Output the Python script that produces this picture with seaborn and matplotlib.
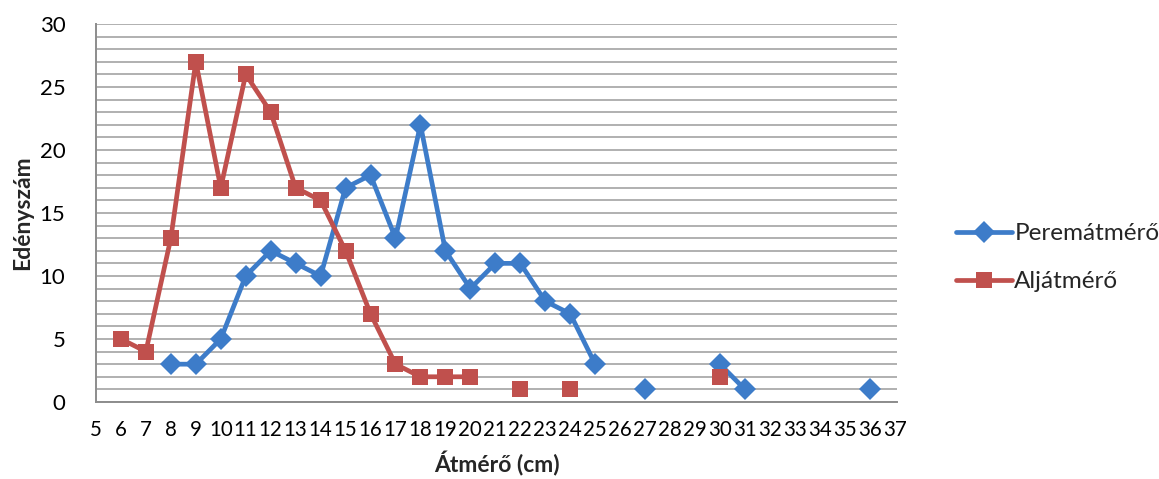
"""Edényszám az átmérő függvényében (perem- és aljátmérő)"""
import numpy as np
import pandas as pd
import matplotlib
matplotlib.use('Agg')
import matplotlib.pyplot as plt
import seaborn as sns

# Adatok (Átmérő cm -> edényszám)
perem_x = [8, 9, 10, 11, 12, 13, 14, 15, 16, 17, 18, 19, 20, 21, 22, 23, 24, 25, 27, 30, 31, 36]
perem_y = [3, 3, 5, 10, 12, 11, 10, 17, 18, 13, 22, 12, 9, 11, 11, 8, 7, 3, 1, 3, 1, 1]

alj_x = [6, 7, 8, 9, 10, 11, 12, 13, 14, 15, 16, 17, 18, 19, 20, 22, 24, 30]
alj_y = [5, 4, 13, 27, 17, 26, 23, 17, 16, 12, 7, 3, 2, 2, 2, 1, 1, 2]

x_ticks = list(range(5, 38))
y_ticks = [0, 5, 10, 15, 20, 25, 30]

blue = '#3d7cc9'
red = '#c0504d'


def build(name, xs, ys):
    # szegmensek: csak a szomszédos átmérők vannak összekötve
    seg = np.concatenate([[0], np.cumsum(np.diff(xs) != 1)])
    return pd.DataFrame({'x': xs, 'y': ys, 'sorozat': name,
                         'szegmens': [f'{name}_{s}' for s in seg]})


df = pd.concat([build('Peremátmérő', perem_x, perem_y),
                build('Aljátmérő', alj_x, alj_y)], ignore_index=True)

sns.set_style('white')
plt.rcParams['font.family'] = ['Lato', 'DejaVu Sans']

fig = plt.figure(figsize=(11.59, 4.79), dpi=100)
ax = fig.add_axes([0.0828, 0.1608, 0.6913, 0.7892])

sns.lineplot(data=df, x='x', y='y', hue='sorozat', style='sorozat',
             units='szegmens', estimator=None, sort=True,
             palette={'Peremátmérő': blue, 'Aljátmérő': red},
             markers={'Peremátmérő': 'D', 'Aljátmérő': 's'},
             dashes=False, linewidth=3.4, markersize=11.5,
             markeredgewidth=0, ax=ax, legend=True, zorder=3)

ax.set_xlim(5, 37.1)
ax.set_ylim(0, 30)
ax.set_xticks(x_ticks)
ax.set_yticks(y_ticks)
ax.set_yticks(range(0, 31), minor=True)
ax.grid(True, which='both', axis='y', color='#b0b0b0', linewidth=1.4)
ax.set_axisbelow(True)
ax.tick_params(axis='both', which='both', length=0, colors='black')
ax.tick_params(axis='x', pad=13, labelsize=14.8)
ax.tick_params(axis='y', pad=22, labelsize=16)

for side in ['top', 'right']:
    ax.spines[side].set_visible(False)
for side in ['left', 'bottom']:
    ax.spines[side].set_color('#8c8c8c')
    ax.spines[side].set_linewidth(1.4)

ax.set_xlabel('Átmérő (cm)', fontsize=16.5, fontweight='bold', labelpad=8)
ax.set_ylabel('Edényszám', fontsize=16.5, fontweight='bold', labelpad=5)

handles, labels = ax.get_legend_handles_labels()
ax.legend(handles, labels, loc='center left',
          bbox_to_anchor=(0.806, 0.462), bbox_transform=fig.transFigure,
          frameon=False, fontsize=17.5, handlelength=2.3, handletextpad=0.1,
          labelspacing=1.1)

fig.savefig('out.png', dpi=100)
plt.close(fig)
